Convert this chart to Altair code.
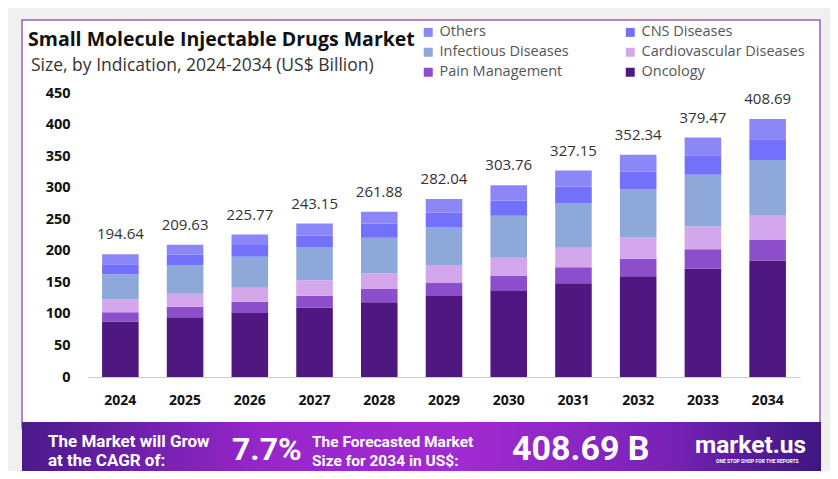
import altair as alt
import pandas as pd

years = ["2024", "2025", "2026", "2027", "2028", "2029", "2030", "2031", "2032", "2033", "2034"]
oncology = [88.0, 94.6, 101.5, 109.7, 118.6, 128.2, 136.3, 148.4, 159.6, 171.7, 184.7]
pain = [14.4, 16.7, 17.6, 19.2, 20.8, 21.5, 23.8, 25.5, 27.8, 30.8, 32.4]
cardio = [20.3, 20.8, 22.4, 24.5, 25.1, 27.8, 29.0, 31.0, 34.5, 36.2, 39.4]
infectious = [40.0, 45.4, 49.0, 52.4, 56.1, 60.3, 66.3, 70.2, 75.0, 81.9, 87.3]
cns = [16.0, 16.1, 18.8, 18.6, 22.4, 22.9, 23.9, 26.4, 28.7, 30.8, 32.9]
others = [15.94, 16.03, 16.47, 18.75, 18.88, 21.34, 24.46, 25.65, 26.74, 28.07, 31.99]
totals = [194.64, 209.63, 225.77, 243.15, 261.88, 282.04, 303.76, 327.15, 352.34, 379.47, 408.69]
y_ticks = [0, 50, 100, 150, 200, 250, 300, 350, 400, 450]

# legend is filled column by column: left column first, then right column
segments = ["Others", "Infectious Diseases", "Pain Management",
            "CNS Diseases", "Cardiovascular Diseases", "Oncology"]
colors = ["#8B87F8", "#8FA8DA", "#8C4ECB", "#7370FC", "#D4A6EB", "#4F1780"]
series = {"Oncology": oncology, "Pain Management": pain, "Cardiovascular Diseases": cardio,
          "Infectious Diseases": infectious, "CNS Diseases": cns, "Others": others}
stack_order = ["Oncology", "Pain Management", "Cardiovascular Diseases",
               "Infectious Diseases", "CNS Diseases", "Others"]

rows = []
for seg in stack_order:
    for y, v in zip(years, series[seg]):
        rows.append({"year": y, "segment": seg, "value": v, "ord": stack_order.index(seg)})
df = pd.DataFrame(rows)
tot_df = pd.DataFrame({"year": years, "total": totals})

FONT = "Open Sans"
one = pd.DataFrame({"a": [0]})

def txt(text, x, y, size, weight="normal", color="#222", font=FONT, align="left"):
    return alt.Chart(pd.DataFrame({"label": [text]})).mark_text(
        align=align, baseline="middle", fontSize=size, fontWeight=weight,
        color=color, font=font
    ).encode(x=alt.value(x), y=alt.value(y), text="label:N")

panel = alt.Chart(one).mark_rect(fill="white", stroke="#9B5FC0", strokeWidth=1.5).encode(
    x=alt.value(-66), x2=alt.value(732), y=alt.value(-73), y2=alt.value(335))

banner = alt.Chart(one).mark_rect(
    fill=alt.Gradient(gradient="linear", x1=0, x2=1, y1=0, y2=0, stops=[
        alt.GradientStop(offset=0, color="#4A1A8A"),
        alt.GradientStop(offset=0.3, color="#9726CB"),
        alt.GradientStop(offset=0.55, color="#A22BD2"),
        alt.GradientStop(offset=0.8, color="#7A22B8"),
        alt.GradientStop(offset=1, color="#3E1682"),
    ])).encode(x=alt.value(-66), x2=alt.value(733), y=alt.value(329), y2=alt.value(400))

x_axis = alt.Axis(labelAngle=0, labelFont=FONT, labelFontSize=14, labelFontWeight="bold",
                  labelColor="#111", ticks=False, labelPadding=16, zindex=1,
                  domainColor="#CCCCCC", domainWidth=1)
x_scale = alt.Scale(paddingInner=0.435, paddingOuter=0.2175)
y_axis = alt.Axis(values=y_ticks, grid=False, domain=False, ticks=False,
                  labelFont=FONT, labelFontSize=14.5, labelFontWeight="bold", zindex=1,
                  labelColor="#111", labelPadding=18, labelOverlap=False)
y_scale = alt.Scale(domain=[0, 450], nice=False)

bars = alt.Chart(df).mark_bar().encode(
    x=alt.X("year:N", sort=years, title=None, scale=x_scale, axis=x_axis),
    y=alt.Y("value:Q", stack="zero", title=None, scale=y_scale, axis=y_axis),
    color=alt.Color("segment:N", scale=alt.Scale(domain=segments, range=colors),
                    legend=alt.Legend(title=None, orient="none", legendX=333, legendY=-68,
                                      columns=2, columnPadding=54, rowPadding=5,
                                      symbolType="square", symbolSize=81,
                                      symbolStrokeWidth=0, labelFont=FONT, labelFontSize=14.5,
                                      labelColor="#555", labelOffset=4, labelLimit=300)),
    order=alt.Order("ord:Q", sort="ascending"),
)

labels = alt.Chart(tot_df).mark_text(baseline="bottom", dy=-12, fontSize=15, font=FONT,
                                     color="#333").encode(
    x=alt.X("year:N", sort=years, title=None, scale=x_scale, axis=x_axis),
    y=alt.Y("total:Q", title=None, scale=y_scale, axis=y_axis),
    text=alt.Text("total:Q", format=".2f"),
)

title = txt("Small Molecule Injectable Drugs Market", -60, -53, 19.5, "bold", "#111")
subtitle = txt("Size, by Indication, 2024-2034 (US$ Billion)", -57, -27, 17.5, "normal", "#333")

BF = "Roboto"
b1 = txt("The Market will Grow", -40, 349, 17, "bold", "white", BF)
b2 = txt("at the CAGR of:", -40, 368, 17, "bold", "white", BF)
b3 = txt("7.7%", 144, 357, 32, "bold", "white", BF)
b4 = txt("The Forecasted Market", 224, 349, 15.5, "bold", "white", BF)
b5 = txt("Size for 2034 in US$:", 224, 368, 15.5, "bold", "white", BF)
b6 = txt("408.69 B", 424, 357, 34, "bold", "white", BF)
b7 = txt("market.us", 607, 353, 24.5, "bold", "white", BF)
b8 = txt("ONE STOP SHOP FOR THE REPORTS", 628, 368, 5, "bold", "white", BF)

chart = alt.layer(panel, banner, bars, labels, title, subtitle,
                  b1, b2, b3, b4, b5, b6, b7, b8).properties(
    width=712, height=284,
    autosize=alt.AutoSizeParams(type="none"),
    padding={"left": 80, "top": 85, "right": 30, "bottom": 94},
    background="#F0F0F0",
).configure_view(stroke=None)

chart.save("out.html", embed_options={"renderer": "svg", "actions": False})
